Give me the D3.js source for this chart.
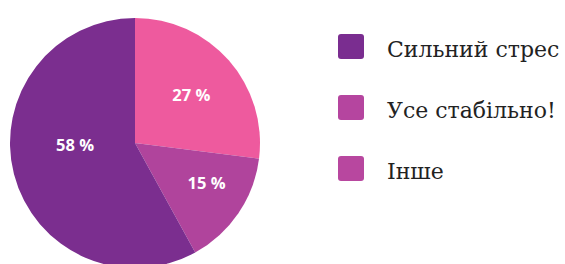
<html>
<head>
  <meta charset="UTF-8">
  <script src="https://d3js.org/d3.v7.min.js"></script>
  <style>
    body { margin: 0; background: #fff; }
  </style>
</head>
<body>
  <svg id="chart" width="565" height="264"></svg>
  <script>
    // chart data
    const categories = ["Сильний стрес", "Усе стабільно!", "Інше"];
    const shares = [58, 15, 27];
    const sliceColors = ["#7b2e8f", "#b0449c", "#ee5a9e"];
    const legendColors = ["#7a2d90", "#b5459f", "#b8479f"];

    // pie drawing order: clockwise from 12 o'clock
    const pieOrder = [2, 1, 0];
    // label placement tweaks (radius, angle shift in degrees) per category
    const labelRadius = [60, 82, 74];
    const labelShift = [12, -5, 1];

    const svg = d3.select("#chart");
    const cx = 135, cy = 143, radius = 125;

    const pie = d3.pie().sort(null).value(i => shares[i]);
    const arcs = pie(pieOrder);
    const arc = d3.arc().innerRadius(0).outerRadius(radius);

    const g = svg.append("g").attr("transform", `translate(${cx},${cy})`);

    g.selectAll("path.slice").data(arcs)
      .join("path")
      .attr("class", "slice")
      .attr("d", arc)
      .attr("fill", d => sliceColors[d.data]);

    function labelPos(d) {
      const a = (d.startAngle + d.endAngle) / 2 + labelShift[d.data] * Math.PI / 180;
      const r = labelRadius[d.data];
      return [r * Math.sin(a), -r * Math.cos(a)];
    }

    g.selectAll("text.pct").data(arcs)
      .join("text")
      .attr("class", "pct")
      .attr("transform", d => `translate(${labelPos(d)})`)
      .attr("text-anchor", "middle")
      .attr("dy", "0.35em")
      .attr("fill", "#fff")
      .attr("font-family", "'Open Sans', sans-serif")
      .attr("font-weight", 700)
      .attr("font-size", 16.5)
      .text(d => shares[d.data] + " %");

    // legend
    const ly = d3.scalePoint().domain(categories).range([34, 156]);
    const legend = svg.append("g");
    const items = legend.selectAll("g.item").data(categories)
      .join("g")
      .attr("class", "item")
      .attr("transform", d => `translate(338,${ly(d)})`);

    items.append("rect")
      .attr("width", 26).attr("height", 25)
      .attr("rx", 3)
      .attr("fill", (d, i) => legendColors[i]);

    items.append("text")
      .attr("x", 49)
      .attr("y", 23)
      .attr("fill", "#222")
      .attr("font-family", "'DejaVu Serif', serif")
      .attr("font-size", 22)
      .text(d => d);
  </script>
</body>
</html>
